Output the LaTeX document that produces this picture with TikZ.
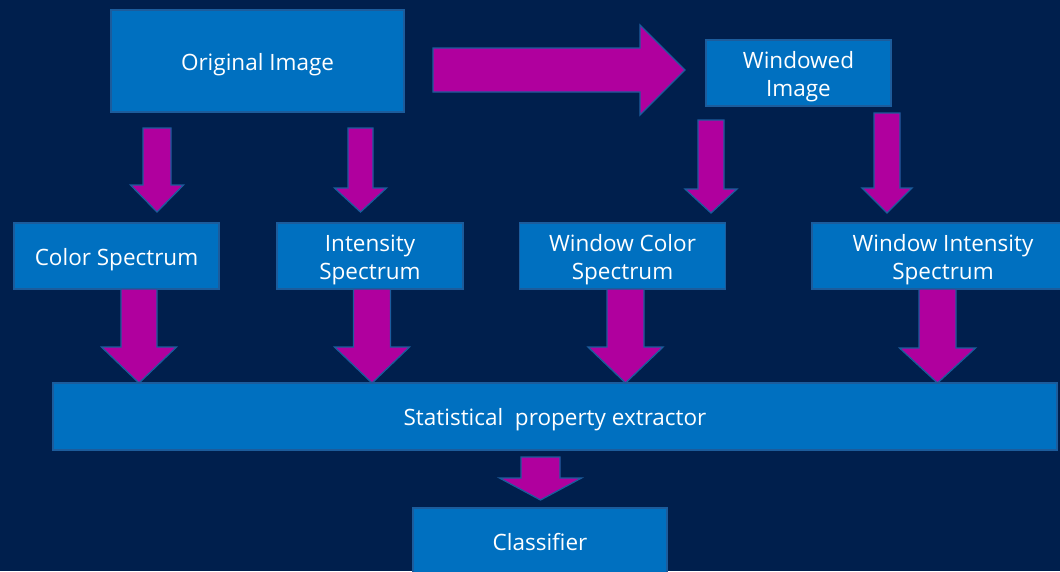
\documentclass[tikz,border=0pt]{standalone}
\usepackage{fontspec}
\setmainfont{Open Sans}
\usetikzlibrary{calc}

\definecolor{navy}{RGB}{0,31,77}
\definecolor{boxblue}{RGB}{0,112,192}
\definecolor{edgeblue}{RGB}{28,92,156}
\definecolor{arrowmag}{RGB}{176,0,158}

\tikzset{
  stage/.style={draw=edgeblue, fill=boxblue, line width=1.3pt, inner sep=0pt,
    text=white, align=center, font=\fontsize{22.5}{28}\selectfont},
  blockarrow/.style={draw=edgeblue, fill=arrowmag, line width=1.3pt, line join=miter}
}

% one line of box text, shifted without changing its reported size
\newcommand\tline[2][-3.5pt]{\raisebox{#1}[\height][\depth]{#2}}

% down-pointing block arrow: #1 top of shaft, #2 tip,
% #3 half shaft width, #4 half head width, #5 head length (all in pt)
\newcommand\downblock[5]{%
  \draw[blockarrow] let \p1=(#1), \p2=(#2) in
    (\x1-#3pt,\y1) -- (\x1+#3pt,\y1) -- (\x1+#3pt,\y2+#5pt) -- (\x1+#4pt,\y2+#5pt)
    -- (\x2,\y2) -- (\x1-#4pt,\y2+#5pt) -- (\x1-#3pt,\y2+#5pt) -- cycle;}
% right-pointing block arrow, same arguments
\newcommand\rightblock[5]{%
  \draw[blockarrow] let \p1=(#1), \p2=(#2) in
    (\x1,\y1+#3pt) -- (\x1,\y1-#3pt) -- (\x2-#5pt,\y1-#3pt) -- (\x2-#5pt,\y1-#4pt)
    -- (\x2,\y2) -- (\x2-#5pt,\y1+#4pt) -- (\x2-#5pt,\y1+#3pt) -- cycle;}

\begin{document}
\begin{tikzpicture}[x=1pt, y=-1pt]
  \clip (0,0) rectangle (1060,571);
  \useasboundingbox (0,0) rectangle (1060,571);
  \fill[navy] (0,0) rectangle (1060,571);

  % processing stages
  \node[stage, minimum width=293pt, minimum height=102pt] (orig) at (257.5,61) {\tline{Original Image}};
  \node[stage, minimum width=185pt, minimum height=66pt] (win) at (798.5,73) {\tline{Windowed}\\\tline{Image}};
  \node[stage, minimum width=205pt, minimum height=66pt] (cs) at (116.5,256) {\tline{Color Spectrum}};
  \node[stage, minimum width=186pt, minimum height=66pt] (is) at (370,256) {\tline{Intensity}\\\tline{Spectrum}};
  \node[stage, minimum width=206pt, minimum height=66pt] (wcs) at (622.5,256) {\tline{Window Color}\\\tline{Spectrum}};
  \node[stage, minimum width=262pt, minimum height=66pt] (wis) at (943,256) {\tline{Window Intensity}\\\tline{Spectrum}};
  \node[stage, minimum width=1004pt, minimum height=67pt] (spe) at (555,416.5) {\tline{Statistical\ \ property extractor}};
  \node[stage, minimum width=254pt, minimum height=76pt] (cls) at (540,546) {\tline[4.5pt]{Classifier}};

  % arrow end points
  \coordinate (o2w-s) at (433,70);  \coordinate (o2w-t) at (685,70);
  \coordinate (o2c-s) at (157,128); \coordinate (o2c-t) at (157,212);
  \coordinate (o2i-s) at (360.5,128); \coordinate (o2i-t) at (360.5,212);
  \coordinate (w2c-s) at (711,120); \coordinate (w2c-t) at (711,213);
  \coordinate (w2i-s) at (887,113); \coordinate (w2i-t) at (887,213);
  \coordinate (c2p-s) at (139,289); \coordinate (c2p-t) at (139,383);
  \coordinate (i2p-s) at (372,289); \coordinate (i2p-t) at (372,383);
  \coordinate (wc2p-s) at (625.5,289); \coordinate (wc2p-t) at (625.5,383);
  \coordinate (wi2p-s) at (937.5,289); \coordinate (wi2p-t) at (937.5,383);
  \coordinate (p2k-s) at (540.5,457); \coordinate (p2k-t) at (540.5,500);

  % block arrows
  \rightblock{o2w-s}{o2w-t}{22}{45}{45}
  \downblock{o2c-s}{o2c-t}{14}{26.5}{27}
  \downblock{o2i-s}{o2i-t}{12.5}{26}{24}
  \downblock{w2c-s}{w2c-t}{13}{26}{24}
  \downblock{w2i-s}{w2i-t}{13}{25}{25}
  \downblock{c2p-s}{c2p-t}{18}{37.5}{36}
  \downblock{i2p-s}{i2p-t}{18.5}{37.5}{36}
  \downblock{wc2p-s}{wc2p-t}{18.5}{37.5}{36}
  \downblock{wi2p-s}{wi2p-t}{18.5}{38}{35}
  \downblock{p2k-s}{p2k-t}{19.5}{41}{22}
\end{tikzpicture}
\end{document}
